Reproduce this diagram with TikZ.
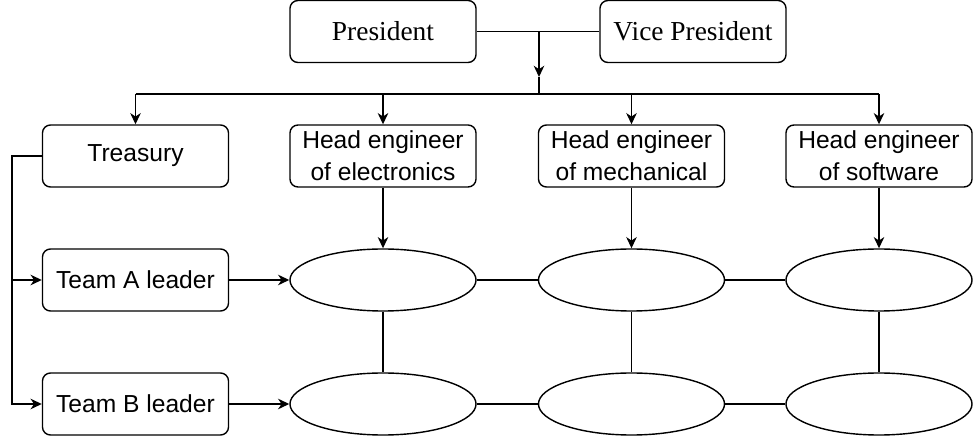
\documentclass[tikz,border=0pt]{standalone}
\usepackage{fontspec}
\setmainfont{Liberation Serif}
\setsansfont{Liberation Sans}
\usepackage{tikz}
\usetikzlibrary{arrows.meta,positioning,shapes.geometric}

\tikzset{
  box/.style={draw, rounded corners=0.2cm, line width=1pt, minimum width=4.65cm, minimum height=1.55cm, align=center, inner sep=1pt},
  sfbox/.style={box, font=\sffamily\fontsize{17.5}{22.7}\selectfont},
  rmbox/.style={box, font=\rmfamily\fontsize{19.5}{23}\selectfont},
  cell/.style={draw, ellipse, line width=1pt, minimum width=4.65cm, minimum height=1.55cm},
  link/.style={line width=1pt},
  arr/.style={link, -{Stealth[length=8pt,width=7.5pt,inset=2.5pt]}}
}

\begin{document}
\begin{tikzpicture} [x=0.025cm, y=-0.025cm]

\useasboundingbox (0,0) rectangle (975,438);
%\draw [help lines, step=10](0,0) grid (975,438);

\node [rmbox] (pres) at (383,31.5) {President};
\node [rmbox] (vp) at (693,31.5) {Vice President};

\node [sfbox] (treas) at (135.5,156) {Treasury};
\node [sfbox] (hel) at (383,156) {Head engineer\\of electronics};
\node [sfbox] (hmech) at (631.5,156) {Head engineer\\of mechanical};
\node [sfbox] (hsoft) at (879,156) {Head engineer\\of software};

\node [sfbox] (teamA) at (135.5,280) {Team A leader};
\node [sfbox] (teamB) at (135.5,404) {Team B leader};

\node [cell] (a1) at (383,280) {};
\node [cell] (a2) at (631.5,280) {};
\node [cell] (a3) at (879,280) {};
\node [cell] (b1) at (383,404) {};
\node [cell] (b2) at (631.5,404) {};
\node [cell] (b3) at (879,404) {};

\coordinate (jn) at (539,31.5);
\coordinate (tip) at (539,77);
\coordinate (bus) at (539,94);
\coordinate (rail) at (12,156);

% top
\draw [link] (pres) -- (vp);
\draw [arr] (jn) -- (tip);
\draw [link] (tip) -- (bus);
\draw [link] (treas.north |- bus) -- (hsoft.north |- bus);
\foreach \n in {treas,hel,hmech,hsoft}
  \draw [arr] (\n.north |- bus) -- (\n.north);

% heads to cells
\foreach \h/\c in {hel/a1,hmech/a2,hsoft/a3}
  \draw [arr] (\h) -- (\c);

% grid of cells
\draw [link] (a1) -- (a2) -- (a3);
\draw [link] (b1) -- (b2) -- (b3);
\foreach \c in {1,2,3}
  \draw [link] (a\c) -- (b\c);

% leaders
\draw [arr] (treas.west) -- (rail) |- (teamB.west);
\draw [arr] (rail |- teamA) -- (teamA.west);
\draw [arr] (teamA) -- (a1);
\draw [arr] (teamB) -- (b1);

\end{tikzpicture}
\end{document}
